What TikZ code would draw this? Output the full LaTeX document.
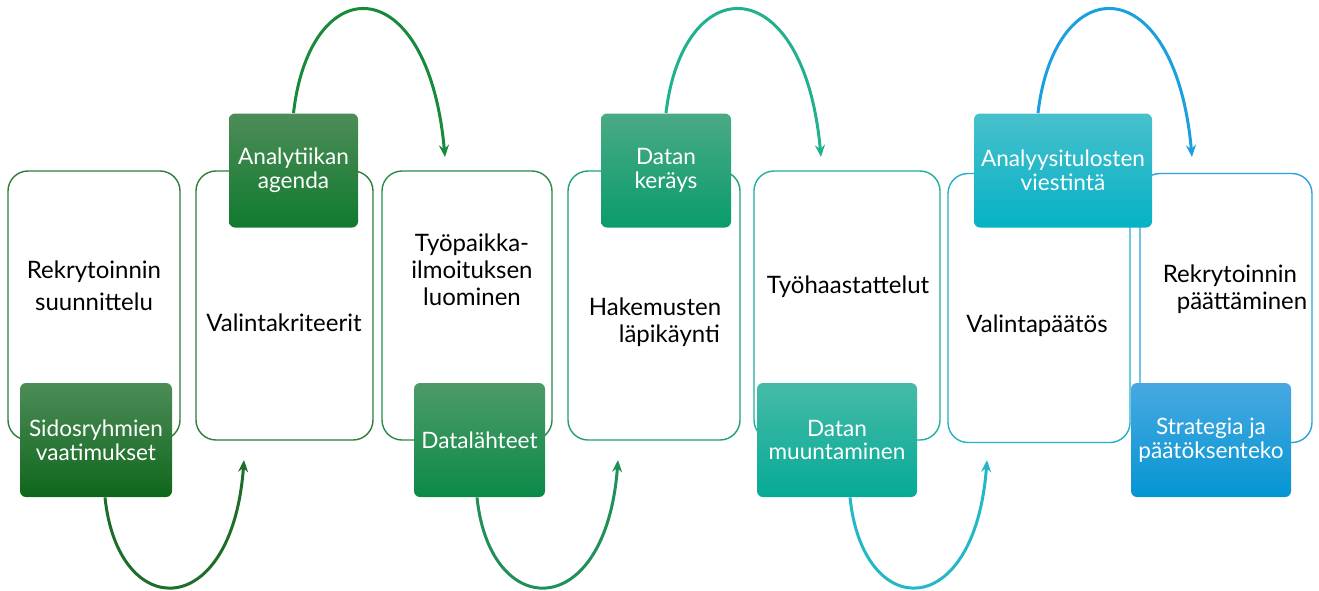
\documentclass[tikz,border=0pt]{standalone}
\usepackage{fontspec}
\setmainfont{Lato}
\usetikzlibrary{arrows.meta}

\definecolor{bA}{HTML}{2E7D3A}
\definecolor{bB}{HTML}{2A8A4C}
\definecolor{bC}{HTML}{22A074}
\definecolor{bD}{HTML}{20B09C}
\definecolor{bE}{HTML}{22B2C8}
\definecolor{bF}{HTML}{2AA2DC}

\begin{document}
\begin{tikzpicture}[x=0.5pt,y=-0.5pt,
  stage/.style={draw, line width=0.7pt, rounded corners=10pt, fill=white, minimum height=134.5pt, inner sep=0pt},
  tab/.style={rounded corners=3pt, text=white, align=center, minimum height=57pt, inner sep=0pt, font=\fontsize{11.3}{11.8}\selectfont},
  lbl/.style={align=center, font=\fontsize{12}{13.5}\selectfont},
  loop/.style={line width=1.5pt, -{Stealth[length=6pt,width=5pt]}}]
\useasboundingbox (0,0) rectangle (1319,590);

% main stages
\foreach \n/\x/\y/\w/\c in {s1/94/305.5/86/bA, s2/284.5/305.5/88.5/bA, s3/467/305.5/85/bB,
  s4/654/305.5/86/bC, s5/847/305.5/93/bD, s6/1039/308/91/bE, s7/1226/308/86/bF}
  \node[stage, draw=\c, minimum width=\w pt] (\n) at (\x,\y) {};

\node[lbl, font=\fontsize{12}{16}\selectfont] (l1) at (94,286) {Rekrytoinnin\\suunnittelu};
\node[lbl] (l2) at (284,323) {Valintakriteerit};
\node[lbl] (l3) at (472,270) {Työpaikka-\\ilmoituksen\\luominen};
\node[lbl] (l4) at (655,322) {Hakemusten\\\hspace*{1.2em}läpikäynti};
\node[lbl] (l5) at (848,287) {Työhaastattelut};
\node[lbl] (l6) at (1037,326) {Valintapäätös};
\node[lbl] (l7) at (1230,289) {Rekrytoinnin\\\hspace*{1em}päättäminen};

% data tabs
\foreach \n/\x/\y/\w/\ct/\cb/\t in {
  t1/96/440/76/4D8C58/0F661C/{Sidosryhmien\\vaatimukset},
  t2/293.5/170.5/64.5/4D8C58/107A2E/{Analytiikan\\agenda},
  t3/479.5/440/65.5/4E9A68/0B8A48/{Datalähteet},
  t4/666/170.5/65/4AAA85/0A9C6C/{Datan\\keräys},
  t5/837/440/80/45BBA8/06AA96/{Datan\\muuntaminen},
  t6/1063/170.5/89/48C0CC/05B2C6/{Analyysitulosten\\viestintä},
  t7/1211/440/80/48A8E2/0496D2/{Strategia ja\\päätöksenteko}} {
  \definecolor{ctop}{HTML}{\ct}
  \definecolor{cbot}{HTML}{\cb}
  \node[tab, minimum width=\w pt, top color=ctop, bottom color=cbot] (\n) at (\x,\y) {\t};
}

% loops
\coordinate (e1) at (244,460);
\coordinate (e2) at (445,157);
\coordinate (e3) at (618,460);
\coordinate (e4) at (821,157);
\coordinate (e5) at (987,460);
\coordinate (e6) at (1192,157);
\draw[loop, color={rgb,255:red,30;green,110;blue,42}] ([xshift=4.5pt]t1.south) .. controls (118,623) and (232,623) .. (e1);
\draw[loop, color={rgb,255:red,24;green,138;blue,60}] (t2.north) .. controls (310,-32) and (428,-32) .. (e2);
\draw[loop, color={rgb,255:red,30;green,144;blue,88}] ([xshift=-1.25pt]t3.south) .. controls (490,623) and (606,623) .. (e3);
\draw[loop, color={rgb,255:red,34;green,176;blue,142}] (t4.north) .. controls (683,-32) and (804,-32) .. (e4);
\draw[loop, color={rgb,255:red,34;green,184;blue,198}] ([xshift=6.5pt]t5.south) .. controls (863,623) and (975,623) .. (e5);
\draw[loop, color={rgb,255:red,27;green,160;blue,223}] ([xshift=-12.5pt]t6.north) .. controls (1055,-32) and (1175,-32) .. (e6);
\end{tikzpicture}
\end{document}
